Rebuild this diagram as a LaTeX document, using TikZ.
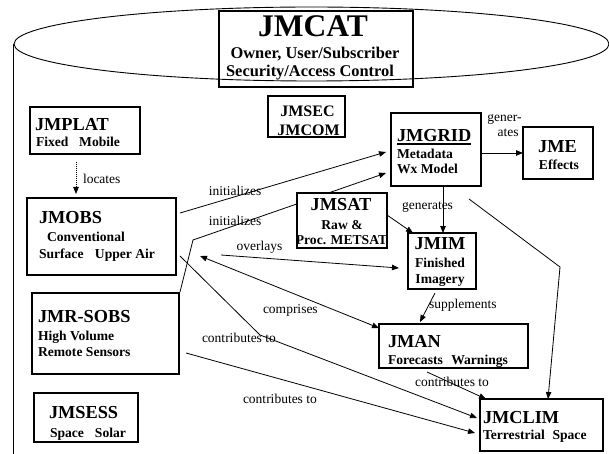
\documentclass[tikz,border=0pt]{standalone}
\usepackage{fontspec}
\setmainfont{Liberation Serif}
\usetikzlibrary{arrows.meta,shapes.geometric,backgrounds}
\newcommand\hdf{\fontsize{18.3pt}{20pt}\selectfont\bfseries}
\newcommand\bdf{\fontsize{13.6pt}{15pt}\selectfont\bfseries}
\newcommand\lbf{\fontsize{13.5pt}{15pt}\selectfont}
\newcommand\thickul[1]{\setbox0\hbox{#1}\rlap{\rule[-2.6pt]{\wd0}{1.6pt}}\box0}
\begin{document}
\begin{tikzpicture}[x=1pt,y=-1pt,
  box/.style={draw, line width=1.1pt, fill=white, inner sep=0, outer sep=0},
  txt/.style={inner sep=0, outer sep=0},
  head/.style={txt, font=\hdf, anchor=base west},
  body/.style={txt, font=\bdf, anchor=base west},
  lbl/.style={txt, font=\lbf, anchor=base west},
  link/.style={line width=0.8pt},
  tip/.tip={Triangle[length=7pt,width=5.5pt]},
  arr/.style={link, -tip}]
\useasboundingbox (0,0) rectangle (609,454);

% catalogue drum and its header box (unfilled, the rim shows through)
\node[draw, ellipse, line width=0.9pt, minimum width=595pt, minimum height=74pt, inner sep=0] (drum) at (311.5,44) {};
\draw[line width=0.9pt] (drum.west) -- (drum.west |- 0,454);
\node[draw, line width=1.1pt, inner sep=0, minimum width=194pt, minimum height=76pt] (cat) at (316,49) {};

% component boxes
\node[box, minimum width=77pt,  minimum height=41pt] (sec)   at (306.5,116.5) {};
\node[box, minimum width=110pt, minimum height=47pt] (plat)  at (85,130.5) {};
\node[box, minimum width=149pt, minimum height=77pt] (obs)   at (101.5,236.5) {};
\node[box, minimum width=147pt, minimum height=81pt] (rsobs) at (105.5,333.5) {};
\node[box, minimum width=104pt, minimum height=49pt] (sess)  at (86,417.5) {};
\node[box, minimum width=90pt,  minimum height=73pt] (grid)  at (436,149.5) {};
\node[box, minimum width=70pt,  minimum height=52pt] (jme)   at (558,153) {};
\node[box, minimum width=90pt,  minimum height=55pt] (sat)   at (342,220.5) {};
\node[box, minimum width=68pt,  minimum height=56pt] (im)    at (442,261) {};
\node[box, minimum width=149pt, minimum height=44pt] (man)   at (453.5,346) {};
\node[box, minimum width=123pt, minimum height=52pt] (clim)  at (541.5,425) {};

% connectors, kept behind the boxes
\begin{scope}[on background layer]
\coordinate (gbend) at (560,267);
\coordinate (rbend) at (193,240);
\coordinate (obend) at (260,335);
\coordinate (ovstart) at (221,255);
\draw[arr, dash pattern=on 1pt off 1pt] ([xshift=-9pt,yshift=-8pt]plat.south) -- ([xshift=-25.5pt,yshift=4pt]obs.north);
\draw[arr] (grid.east |- jme.west) -- (jme.west);
\draw[arr] ([xshift=7pt]grid.south) -- ([xshift=1pt]im.north);
\draw[arr] ([xshift=33pt,yshift=-13pt]grid.south) -- (gbend) -- ([xshift=6.5pt]clim.north);
\draw[arr] ([yshift=5.5pt]sat.east) -- ([xshift=5pt]im.north west);
\draw[arr] ([xshift=4pt,yshift=23.5pt]obs.east) -- ([xshift=-5pt,yshift=-2.5pt]grid.west);
\draw[arr] ([xshift=1pt,yshift=1pt]rsobs.north east) -- (rbend) -- ([xshift=-5pt,yshift=-23.5pt]grid.west);
\draw[arr] (ovstart) -- ([xshift=-9pt,yshift=-7pt]im.west);
\draw[link, tip-tip] ([xshift=24pt,yshift=-19.5pt]obs.east) -- ([yshift=-4pt]man.north west);
\draw[arr] ([xshift=4pt,yshift=-19.5pt]obs.east) -- (obend) -- ([xshift=-3pt,yshift=7pt]clim.west);
\draw[arr] ([xshift=7pt,yshift=-19.5pt]rsobs.east) -- ([xshift=-5pt,yshift=-8pt]clim.west);
\draw[arr] ([xshift=-26.5pt,yshift=-4pt]man.south) -- ([xshift=6pt]clim.north west);
\draw[arr] ([xshift=-7pt,yshift=-4pt]im.south) -- ([xshift=-33.5pt,yshift=2pt]man.north);
\end{scope}

% box texts
\node[txt, font=\fontsize{31.5pt}{33pt}\selectfont\bfseries, anchor=base] at (313,37) {JMCAT};
\node[txt, font=\fontsize{16.4pt}{18pt}\selectfont\bfseries, anchor=base] at (315,59) {Owner, User/Subscriber};
\node[txt, font=\fontsize{16.4pt}{18pt}\selectfont\bfseries, anchor=base] at (310,77) {Security/Access Control};

\node[txt, font=\fontsize{16pt}{18pt}\selectfont\bfseries, anchor=base] at (307.5,117) {JMSEC};
\node[txt, font=\fontsize{16pt}{18pt}\selectfont\bfseries, anchor=base] at (308.5,136) {JMCOM};

\node[head] at (35,131) {JMPLAT};
\node[body] at (36,147) {Fixed\hspace{7.3pt} Mobile};

\node[head] at (39,223) {JMOBS};
\node[body] at (47,241) {Conventional};
\node[body] at (39,258) {Surface\hspace{8pt} Upper Air};

\node[head] at (38,322) {JMR-SOBS};
\node[body] at (38,340) {High Volume};
\node[body] at (38,356) {Remote Sensors};

\node[head] at (49,418) {JMSESS};
\node[body] at (50,437) {Space\hspace{7.6pt} Solar};

\node[head] at (397,142) {\thickul{JMGRID}};
\node[body] at (397,159) {Metadata};
\node[body] at (397,174) {Wx Model};

\node[head, anchor=base] at (557.5,153) {JME};
\node[body, anchor=base] at (559,170) {Effects};

\node[head, anchor=base] at (341,211) {JMSAT};
\node[body, anchor=base] at (342,229) {Raw \&};
\node[body, anchor=base] at (341.5,244) {Proc. METSAT};

\node[head, anchor=base] at (440,249) {JMIM};
\node[body, anchor=base] at (440,267) {Finished};
\node[body, anchor=base] at (440,283) {Imagery};

\node[head] at (388,347) {JMAN};
\node[body] at (388,364) {Forecasts\hspace{5pt} Warnings};

\node[head] at (483,423) {JMCLIM};
\node[body] at (483,439) {Terrestrial\hspace{4.2pt} Space};

% connector labels
\node[lbl] at (83,183) {locates};
\node[lbl, anchor=base] at (235,196) {initializes};
\node[lbl, anchor=base] at (235,225) {initializes};
\node[lbl, anchor=base] at (259.5,250) {overlays};
\node[lbl, anchor=base] at (427.5,209) {generates};
\node[lbl, anchor=base] at (504.5,122) {gener-};
\node[lbl, anchor=base] at (508,137) {ates};
\node[lbl] at (263,313) {comprises};
\node[lbl] at (429,308) {supplements};
\node[lbl] at (202,342) {contributes to};
\node[lbl] at (243,403) {contributes to};
\node[lbl] at (415,386) {contributes to};
\end{tikzpicture}
\end{document}
